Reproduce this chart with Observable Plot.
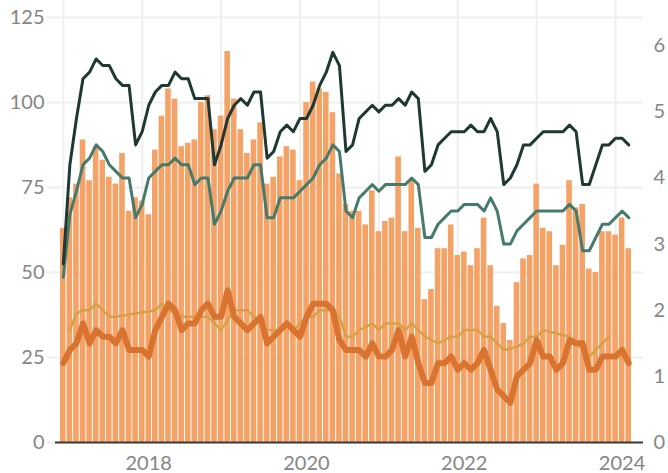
<!DOCTYPE html>
<html>
<head>
<meta charset="utf-8">
<script src="https://cdn.jsdelivr.net/npm/d3@7"></script>
<script src="https://cdn.jsdelivr.net/npm/@observablehq/plot@0.6"></script>
<style>
  html, body { margin: 0; padding: 0; background: #fff; }
  #chart svg { display: block; }
</style>
</head>
<body>
<div id="chart"></div>
<script>
// Monthly bar values (left axis), Jan 2017 – Mar 2024
const barValues = [
  63, 72, 76, 89, 77, 87, 83, 78, 76, 85, 68, 72,
  71, 67, 86, 96, 104, 101, 87, 88, 89, 100, 102, 92,
  96, 115, 101, 92, 85, 89, 94, 76, 78, 84, 87, 86,
  77, 100, 106, 104, 103, 97, 79, 70, 68, 68, 64, 74,
  62, 65, 66, 84, 62, 77, 63, 42, 45, 57, 57, 64,
  55, 56, 52, 57, 66, 52, 40, 35, 30, 47, 54, 55,
  76, 63, 62, 52, 58, 77, 69, 70, 51, 50, 62, 62,
  61, 66, 57
];
// Lines (right axis)
const blackLine = [
  2.7, 4.2, 4.9, 5.5, 5.6, 5.8, 5.7, 5.7, 5.5, 5.4, 5.4, 4.5,
  4.7, 5.1, 5.3, 5.4, 5.4, 5.6, 5.5, 5.5, 5.2, 5.2, 5.2, 4.2,
  4.5, 4.9, 5.1, 5.2, 5.1, 5.3, 5.3, 4.3, 4.4, 4.7, 4.8, 4.7,
  4.9, 4.9, 5.1, 5.4, 5.6, 5.9, 5.7, 4.4, 4.5, 4.9, 5.0, 5.1,
  5.0, 5.1, 5.1, 5.2, 5.1, 5.3, 5.2, 4.1, 4.2, 4.5, 4.6, 4.7,
  4.7, 4.7, 4.8, 4.7, 4.7, 4.9, 4.7, 3.9, 4.0, 4.2, 4.5, 4.5,
  4.6, 4.7, 4.7, 4.7, 4.7, 4.8, 4.7, 3.9, 3.9, 4.2, 4.5, 4.5,
  4.6, 4.6, 4.5
];
const tealLine = [
  2.5, 3.45, 3.8, 4.2, 4.3, 4.5, 4.4, 4.2, 4.1, 4.0, 4.0, 3.4,
  3.6, 4.0, 4.1, 4.2, 4.2, 4.3, 4.2, 4.2, 3.9, 4.0, 4.0, 3.3,
  3.5, 3.8, 4.0, 4.0, 4.0, 4.2, 4.2, 3.4, 3.4, 3.7, 3.7, 3.7,
  3.8, 3.9, 4.0, 4.2, 4.3, 4.5, 4.4, 3.5, 3.4, 3.7, 3.8, 3.9,
  3.8, 3.9, 3.9, 3.9, 3.9, 4.0, 3.9, 3.1, 3.1, 3.3, 3.4, 3.5,
  3.5, 3.6, 3.6, 3.6, 3.5, 3.7, 3.5, 3.0, 3.0, 3.2, 3.3, 3.4,
  3.5, 3.5, 3.5, 3.5, 3.5, 3.6, 3.5, 2.9, 2.9, 3.1, 3.3, 3.3,
  3.4, 3.5, 3.4
];
const orangeLine = [
  1.2, 1.4, 1.5, 1.8, 1.5, 1.7, 1.6, 1.6, 1.5, 1.7, 1.4, 1.4,
  1.4, 1.3, 1.7, 1.9, 2.1, 2.0, 1.7, 1.8, 1.8, 2.0, 2.1, 1.9,
  1.9, 2.3, 1.9, 1.8, 1.7, 1.8, 1.9, 1.5, 1.6, 1.7, 1.8, 1.7,
  1.6, 1.9, 2.1, 2.1, 2.1, 2.0, 1.55, 1.4, 1.4, 1.4, 1.3, 1.5,
  1.3, 1.3, 1.4, 1.7, 1.3, 1.6, 1.2, 0.9, 0.9, 1.2, 1.2, 1.3,
  1.1, 1.2, 1.1, 1.2, 1.4, 1.1, 0.8, 0.7, 0.6, 1.0, 1.1, 1.2,
  1.55, 1.3, 1.3, 1.1, 1.2, 1.55, 1.5, 1.5, 1.1, 1.1, 1.3, 1.3,
  1.3, 1.4, 1.2
];
const tanLine = [
  null, 1.7, 1.95, 2.0, 2.0, 2.1, 2.0, 1.9, 1.9, null, null, null,
  null, null, 2.0, 2.1, 2.0, 1.95, 1.9, 1.9, 1.9, 1.9, 1.9, 1.8,
  1.7, 1.85, 2.0, 2.0, 2.0, 1.9, 1.8, 1.7, 1.7, 1.7, 1.8, 1.7,
  1.8, 1.9, 1.9, 2.0, 2.0, 2.0, 1.9, 1.6, 1.6, 1.7, 1.75, 1.8,
  1.7, 1.8, 1.8, 1.8, 1.7, 1.8, 1.7, 1.6, 1.55, 1.5, 1.55, 1.6,
  1.6, 1.7, 1.7, 1.7, 1.6, 1.6, 1.5, 1.4, 1.42, 1.45, 1.5, 1.6,
  1.6, 1.7, null, null, null, 1.6, 1.5, 1.4, 1.3, 1.4, 1.5, 1.6,
  null, null, null
];
const leftTicks = [0, 25, 50, 75, 100, 125];
const rightTicks = [0, 1, 2, 3, 4, 5, 6];
const gridYears = [2017, 2018, 2019, 2020, 2021, 2022, 2023, 2024];
const labelYears = [2018, 2020, 2022, 2024];

const fmt = d3.utcFormat("%Y-%m");
const months = d3.utcMonths(new Date(Date.UTC(2017, 0, 1)), new Date(Date.UTC(2024, 3, 1))).map(fmt);
const K = 19.45; // right-axis to left-axis factor

const data = months.map((m, i) => ({
  m, bar: barValues[i],
  black: blackLine[i], teal: tealLine[i], orange: orangeLine[i], tan: tanLine[i]
}));
const tanData = data.filter(d => d.tan != null);

const chart = Plot.plot({
  width: 668,
  height: 473,
  marginLeft: 47,
  marginRight: 25,
  marginTop: 0,
  marginBottom: 31,
  style: {fontFamily: "Lato, sans-serif", fontSize: "20px", color: "#858585", background: "#fff"},
  x: {type: "band", domain: months, range: [60, 631], paddingInner: 0.15, paddingOuter: 0},
  y: {domain: [0, 125], range: [442, 17]},
  marks: [
    Plot.gridX(gridYears.map(y => `${y}-01`), {stroke: "#efefef", strokeOpacity: 1, strokeWidth: 2}),
    Plot.gridY(leftTicks, {stroke: "#efefef", strokeOpacity: 1, strokeWidth: 2}),
    Plot.barY(data, {x: "m", y: "bar", fill: "#F5A266"}),
    Plot.ruleY([0], {stroke: "#3a3a3a", strokeWidth: 2, insetLeft: 8}),
    Plot.line(tanData, {x: "m", y: d => d.tan * K, stroke: "#D6A146", strokeWidth: 2.5}),
    Plot.line(data, {x: "m", y: d => d.orange * K, stroke: "#D97330", strokeWidth: 6}),
    Plot.line(data, {x: "m", y: d => d.teal * K, stroke: "#467A6C", strokeWidth: 3}),
    Plot.line(data, {x: "m", y: d => d.black * K, stroke: "#1E3932", strokeWidth: 3}),
    Plot.axisY(leftTicks, {anchor: "left", tickSize: 0, tickPadding: 3, label: null, fill: "#858585"}),
    Plot.axisY(rightTicks.map(r => r * K), {anchor: "right", tickSize: 0, tickPadding: 10, label: null, fill: "#858585", tickFormat: d => String(Math.round(d / K))}),
    Plot.axisX(labelYears.map(y => `${y}-01`), {anchor: "bottom", tickSize: 0, tickPadding: 13, dx: 6.5, label: null, fill: "#858585", tickFormat: d => d.slice(0, 4)})
  ]
});
document.getElementById("chart").appendChild(chart);
</script>
</body>
</html>
